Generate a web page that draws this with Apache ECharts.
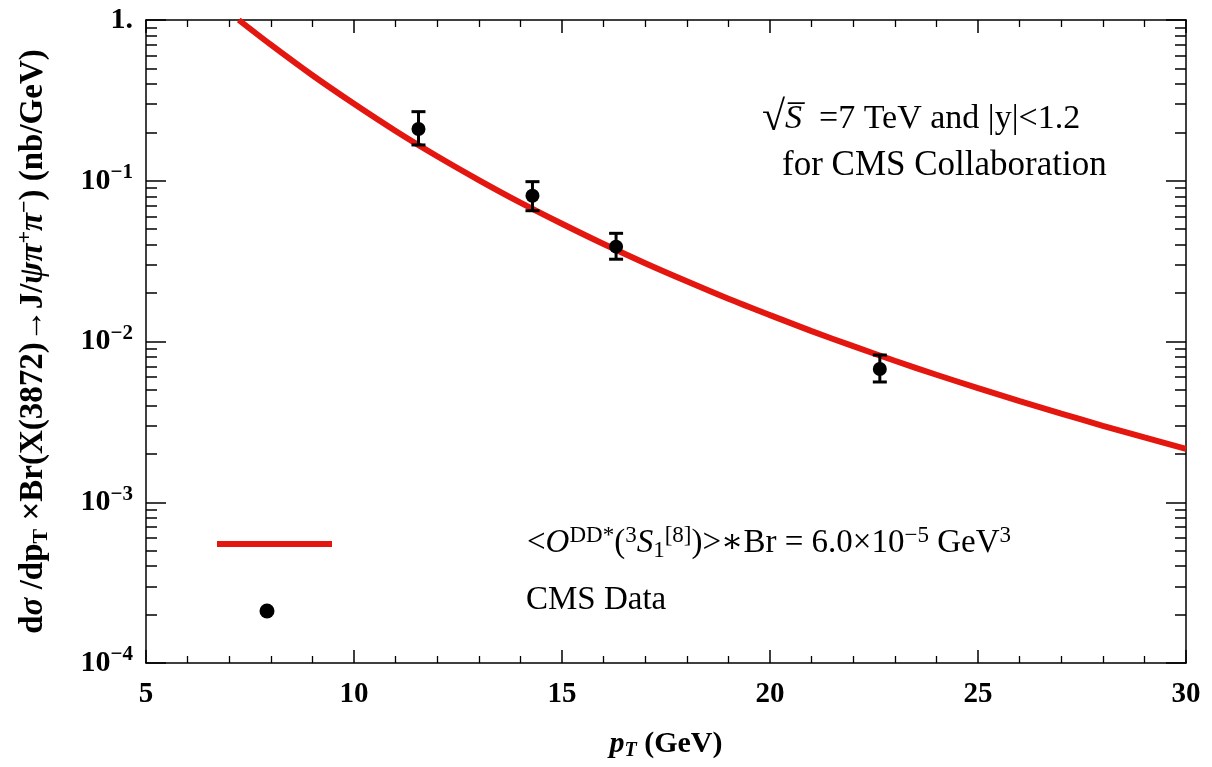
<!DOCTYPE html>
<html>
<head>
<meta charset="utf-8">
<script src="https://cdn.jsdelivr.net/npm/echarts@6/dist/echarts.min.js"></script>
<style>html,body{margin:0;padding:0;background:#fff}#c{width:1212px;height:767px}</style>
</head>
<body>
<div id="c"></div>
<script>
// ---- data ----
const curvePT = [7.23, 8, 9, 10, 11, 12, 13, 14, 15, 16, 17, 18, 19, 20, 21, 22, 23, 24, 25, 26, 27, 28, 29, 30];
const curveSigma = [1.0, 0.702, 0.453, 0.301, 0.204, 0.142, 0.101, 0.0731, 0.0540, 0.0404, 0.0307, 0.0237, 0.01845, 0.01459, 0.01161, 0.00935, 0.00759, 0.00621, 0.00513, 0.00426, 0.00356, 0.00299, 0.00253, 0.00215];
const dataPT = [11.55, 14.29, 16.30, 22.64];
const dataSigma = [0.210, 0.0807, 0.0389, 0.00675];
const dataLow = [0.167, 0.0651, 0.0325, 0.0056];
const dataHigh = [0.269, 0.0987, 0.0471, 0.00824];
const xTickLabels = ['5', '10', '15', '20', '25', '30'];
const yTickValues = [0.0001, 0.001, 0.01, 0.1, 1];
const yTickLabels = ['10{sup|\u22124}', '10{sup|\u22123}', '10{sup|\u22122}', '10{sup|\u22121}', '1.'];
const seriesNames = ['Color-octet DD* (curve)', 'CMS Data'];

const yMinorTicks = [];
for (let e = -4; e <= -1; e++) for (let k = 2; k <= 9; k++) yMinorTicks.push(k * Math.pow(10, e));

const SERIF = '"Liberation Serif", "DejaVu Serif", serif';
const RED = '#e3170f';

const chart = echarts.init(document.getElementById('c'), null, {renderer: 'canvas'});

function mkRich(base) {
  const s = Math.round(base * 0.68);
  return {
    sup: {fontSize: s, fontWeight: 'bold', fontFamily: SERIF, color: '#000', padding: [0, 0, Math.round(base * 0.5), 0]},
    sub: {fontSize: s, fontWeight: 'bold', fontFamily: SERIF, color: '#000', padding: [Math.round(base * 0.45), 0, 0, 0]},
    it: {fontSize: base, fontWeight: 'bold', fontStyle: 'italic', fontFamily: SERIF, color: '#000'},
    subit: {fontSize: s, fontWeight: 'bold', fontStyle: 'italic', fontFamily: SERIF, color: '#000', padding: [Math.round(base * 0.45), 0, 0, 0]}
  };
}

const axisLineStyle = {color: '#000', width: 1.5};

function xAxisDef(pos, labels) {
  return {
    type: 'value', position: pos, min: 5, max: 30, interval: 5,
    axisLine: {show: true, onZero: false, lineStyle: axisLineStyle},
    axisTick: {show: true, inside: true, length: 13, lineStyle: {color: '#000', width: 1.5}},
    minorTick: {show: true, splitNumber: 5, length: 7, lineStyle: {color: '#000', width: 1.3}},
    splitLine: {show: false}, minorSplitLine: {show: false},
    axisLabel: labels ? {
      show: true, margin: 17, color: '#000', fontFamily: SERIF, fontWeight: 'bold', fontSize: 29,
      formatter: v => xTickLabels[Math.round((v - 5) / 5)]
    } : {show: false},
    name: labels ? '{it|p}{subit|T} (GeV)' : '',
    nameLocation: 'middle', nameGap: 64,
    nameTextStyle: {fontFamily: SERIF, fontWeight: 'bold', fontSize: 30, color: '#000', rich: mkRich(30)}
  };
}

function yAxisDef(pos, major, labels) {
  const ax = {
    type: 'log', logBase: 10, position: pos, min: 0.0001, max: 1,
    axisLine: {show: major, onZero: false, lineStyle: axisLineStyle},
    axisTick: major
      ? {show: true, inside: true, length: 20, lineStyle: {color: '#000', width: 1.5}, customValues: yTickValues}
      : {show: true, inside: true, length: 11, lineStyle: {color: '#000', width: 1.5}, customValues: yMinorTicks},
    splitLine: {show: false},
    axisLabel: {show: false}
  };
  if (labels) {
    ax.axisLabel = {
      show: true, margin: 13, color: '#000', fontFamily: SERIF, fontWeight: 'bold', fontSize: 30,
      customValues: yTickValues,
      formatter: v => {
        let best = 0, bd = Infinity;
        yTickValues.forEach((t, i) => { const d = Math.abs(Math.log10(t) - Math.log10(v)); if (d < bd) { bd = d; best = i; } });
        return yTickLabels[best];
      },
      rich: {sup: {fontSize: 21, fontWeight: 'bold', fontFamily: SERIF, color: '#000', padding: [0, 0, 16, 0]}}
    };
    ax.name = 'd{it|\u03c3} /dp{sub|T} \u00d7Br(X(3872)\u2192J/{it|\u03c8\u03c0}{sup|+}{it|\u03c0}{sup|\u2212}) (nb/GeV)';
    ax.nameLocation = 'middle';
    ax.nameRotate = 90;
    ax.nameGap = 93;
    ax.nameTextStyle = {fontFamily: SERIF, fontWeight: 'bold', fontSize: 33, color: '#000', rich: mkRich(33)};
  }
  return ax;
}

const errData = dataPT.map((x, i) => [x, dataLow[i], dataHigh[i]]);

const option = {
  animation: false,
  backgroundColor: '#fff',
  grid: {left: 146, right: 26, top: 20, bottom: 104, containLabel: false},
  xAxis: [xAxisDef('bottom', true), xAxisDef('top', false)],
  yAxis: [yAxisDef('left', true, true), yAxisDef('left', false, false), yAxisDef('right', true, false), yAxisDef('right', false, false)],
  series: [
    {
      name: seriesNames[0], type: 'line', xAxisIndex: 0, yAxisIndex: 0,
      data: curvePT.map((x, i) => [x, curveSigma[i]]),
      smooth: 0.3, showSymbol: false, clip: true,
      lineStyle: {color: RED, width: 6}, z: 3
    },
    {
      name: 'err', type: 'custom', xAxisIndex: 0, yAxisIndex: 0,
      data: errData, z: 4,
      renderItem: function (params, api) {
        const x = api.value(0);
        const lo = api.coord([x, api.value(1)]);
        const hi = api.coord([x, api.value(2)]);
        const hw = 7;
        const st = {stroke: '#000', lineWidth: 3};
        return {type: 'group', children: [
          {type: 'line', shape: {x1: lo[0], y1: lo[1], x2: hi[0], y2: hi[1]}, style: st},
          {type: 'line', shape: {x1: lo[0] - hw, y1: lo[1], x2: lo[0] + hw, y2: lo[1]}, style: st},
          {type: 'line', shape: {x1: hi[0] - hw, y1: hi[1], x2: hi[0] + hw, y2: hi[1]}, style: st}
        ]};
      }
    },
    {
      name: seriesNames[1], type: 'scatter', xAxisIndex: 0, yAxisIndex: 0,
      data: dataPT.map((x, i) => [x, dataSigma[i]]),
      symbol: 'circle', symbolSize: 14, itemStyle: {color: '#000', opacity: 1}, z: 5
    }
  ],
  graphic: [
    {type: 'text', left: 762, top: 98, style: {
      text: '{r|\u221a}{s|S\u0305}  =7 TeV and |y|<1.2',
      font: '34px ' + SERIF, fill: '#000',
      rich: {r: {fontSize: 42, fontWeight: 'bold', fontFamily: SERIF, fill: '#000'},
             s: {fontSize: 34, fontStyle: 'italic', fontFamily: SERIF, fill: '#000'}}
    }},
    {type: 'text', left: 782, top: 148, style: {text: 'for CMS Collaboration', font: '35px ' + SERIF, fill: '#000'}},
    {type: 'line', shape: {x1: 217, y1: 544, x2: 332, y2: 544}, style: {stroke: RED, lineWidth: 6}},
    {type: 'circle', shape: {cx: 267, cy: 611, r: 7.5}, style: {fill: '#000'}},
    {type: 'text', left: 527, top: 524, style: {
      text: '<{i|O}{sup|DD*}({sup|3}{i|S}{sub|1}{sup|[8]})>\u2217Br = 6.0\u00d710{sup|\u22125} GeV{sup|3}',
      font: '33px ' + SERIF, fill: '#000',
      rich: {
        i: {fontSize: 33, fontStyle: 'italic', fontFamily: SERIF, fill: '#000'},
        sup: {fontSize: 23, fontFamily: SERIF, fill: '#000', padding: [0, 0, 15, 0]},
        sub: {fontSize: 23, fontFamily: SERIF, fill: '#000', padding: [15, 0, 0, 0]}
      }
    }},
    {type: 'text', left: 526, top: 584, style: {text: 'CMS Data', font: '33px ' + SERIF, fill: '#000'}}
  ]
};
chart.setOption(option);
</script>
</body>
</html>
